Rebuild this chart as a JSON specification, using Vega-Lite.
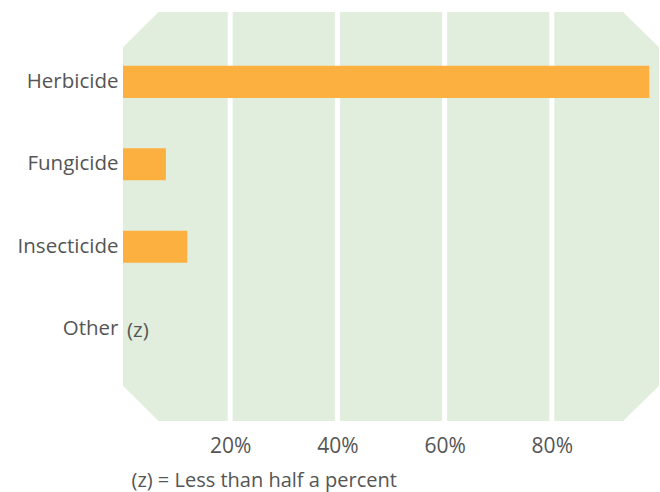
{
  "$schema": "https://vega.github.io/schema/vega-lite/v6.json",
  "autosize": {"type": "none"},
  "padding": {"left": 123, "top": 12, "right": 1, "bottom": 71},
  "width": 536,
  "height": 409,
  "background": "white",
  "config": {
    "view": {"stroke": null},
    "font": "Open Sans",
    "text": {"font": "Open Sans"}
  },
  "datasets": {
    "panel": [
      {"px": 0, "py": 0.086, "py2": 0.914},
      {"px": 6.6, "py": 0, "py2": 1},
      {"px": 93.3, "py": 0, "py2": 1},
      {"px": 100, "py": 0.086, "py2": 0.914}
    ],
    "grid": [{"g": 20}, {"g": 40}, {"g": 60}, {"g": 80}],
    "pesticide": [
      {"type": "Herbicide", "value": 98.2, "note": null},
      {"type": "Fungicide", "value": 8, "note": null},
      {"type": "Insecticide", "value": 12, "note": null},
      {"type": "Other", "value": null, "note": "(z)"}
    ]
  },
  "layer": [
    {
      "data": {"name": "panel"},
      "mark": {"type": "area", "color": "#E1EEDD", "interpolate": "linear"},
      "encoding": {
        "x": {"field": "px", "type": "quantitative", "scale": {"domain": [0, 100], "nice": false},
          "axis": {"values": [20, 40, 60, 80], "labelExpr": "datum.value + '%'", "grid": false, "domain": false, "ticks": false, "tickSize": 0,
            "labelFontSize": 21, "labelColor": "#555555", "labelPadding": 31, "labelBaseline": "alphabetic", "labelDx": 5,
            "title": "(z) = Less than half a percent", "titleFontSize": 20, "titleFontWeight": "normal", "titleColor": "#555555",
            "titleAnchor": "start", "titleAlign": "left", "titleBaseline": "alphabetic", "titleX": 8, "titleY": 65}},
        "y": {"field": "py", "type": "quantitative", "scale": {"domain": [0, 1], "nice": false}, "axis": null},
        "y2": {"field": "py2"}
      }
    },
    {
      "data": {"name": "grid"},
      "mark": {"type": "rule", "color": "white", "strokeWidth": 5},
      "encoding": {
        "x": {"field": "g", "type": "quantitative",
          "axis": {"values": [20, 40, 60, 80], "labelExpr": "datum.value + '%'", "grid": false, "domain": false, "ticks": false, "tickSize": 0,
            "labelFontSize": 21, "labelColor": "#555555", "labelPadding": 31, "labelBaseline": "alphabetic", "labelDx": 5,
            "title": "(z) = Less than half a percent", "titleFontSize": 20, "titleFontWeight": "normal", "titleColor": "#555555",
            "titleAnchor": "start", "titleAlign": "left", "titleBaseline": "alphabetic", "titleX": 8, "titleY": 65}}
      }
    },
    {
      "data": {"name": "pesticide"},
      "layer": [
        {
          "mark": {"type": "bar", "color": "#FBB040"},
          "encoding": {
            "x": {"field": "value", "type": "quantitative",
              "axis": {"values": [20, 40, 60, 80], "labelExpr": "datum.value + '%'", "grid": false, "domain": false, "ticks": false, "tickSize": 0,
                "labelFontSize": 21, "labelColor": "#555555", "labelPadding": 31, "labelBaseline": "alphabetic", "labelDx": 5,
                "title": "(z) = Less than half a percent", "titleFontSize": 20, "titleFontWeight": "normal", "titleColor": "#555555",
                "titleAnchor": "start", "titleAlign": "left", "titleBaseline": "alphabetic", "titleX": 8, "titleY": 65}},
            "y": {"field": "type", "type": "nominal", "sort": ["Herbicide", "Fungicide", "Insecticide", "Other"],
              "scale": {"domain": ["Herbicide", "Fungicide", "Insecticide", "Other"], "paddingInner": 0.61, "paddingOuter": 0.785, "align": 0.415},
              "axis": {"title": null, "domain": false, "ticks": false, "tickSize": 0, "labelPadding": 5, "labelFontSize": 20.5, "labelColor": "#555555", "labelBaseline": "middle"}}
          }
        },
        {
          "transform": [{"filter": "datum.note != null"}],
          "mark": {"type": "text", "align": "left", "baseline": "middle", "dx": 4, "dy": 2, "fontSize": 20.5, "color": "#555555"},
          "encoding": {
            "x": {"datum": 0, "type": "quantitative"},
            "y": {"field": "type", "type": "nominal", "sort": ["Herbicide", "Fungicide", "Insecticide", "Other"],
              "scale": {"domain": ["Herbicide", "Fungicide", "Insecticide", "Other"], "paddingInner": 0.61, "paddingOuter": 0.785, "align": 0.415}},
            "text": {"field": "note"}
          }
        }
      ]
    }
  ],
  "resolve": {"scale": {"y": "independent"}, "axis": {"y": "independent"}}
}
